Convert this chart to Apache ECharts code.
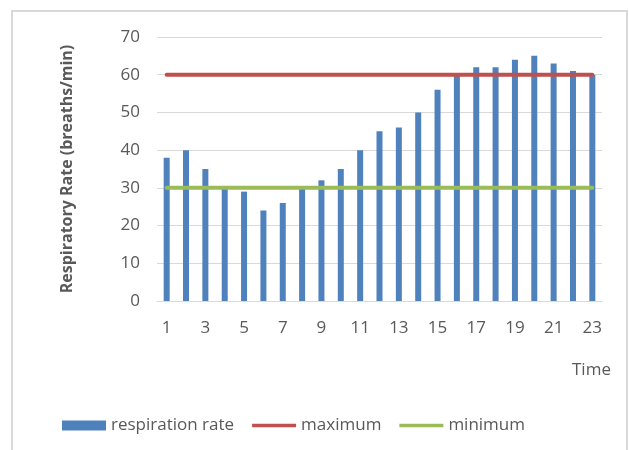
<!DOCTYPE html>
<html>
<head>
<meta charset="utf-8">
<script src="https://cdn.jsdelivr.net/npm/echarts@6/dist/echarts.min.js"></script>
<style>
  html, body { margin: 0; padding: 0; background: #fff; }
  #chart { width: 629px; height: 450px; }
</style>
</head>
<body>
<div id="chart"></div>
<script>
// Hourly respiration readings with fixed upper and lower limits
const timePoints = ['1','2','3','4','5','6','7','8','9','10','11','12','13','14','15','16','17','18','19','20','21','22','23'];
const respirationRate = [38, 40, 35, 30, 29, 24, 26, 30, 32, 35, 40, 45, 46, 50, 56, 60, 62, 62, 64, 65, 63, 61, 60];
const maximumRate = [60,60,60,60,60,60,60,60,60,60,60,60,60,60,60,60,60,60,60,60,60,60,60];
const minimumRate = [30,30,30,30,30,30,30,30,30,30,30,30,30,30,30,30,30,30,30,30,30,30,30];
const yTicks = { min: 0, max: 70, interval: 10 };

const FONT = '"Open Sans", sans-serif';
const TEXT = '#595959';
const GRID = '#d9d9d9';
// flat bar used as the legend key for the limit lines
const LINE_ICON = 'path://M0,0h48v4H0z';

const chart = echarts.init(document.getElementById('chart'), null, { renderer: 'canvas' });
chart.setOption({
  backgroundColor: '#ffffff',
  animation: false,
  textStyle: { fontFamily: FONT },
  grid: { left: 157, right: 27, top: 37, bottom: 149, containLabel: false },
  xAxis: {
    type: 'category',
    data: timePoints,
    boundaryGap: true,
    axisLine: { show: true, lineStyle: { color: GRID, width: 1 } },
    axisTick: { show: false },
    axisLabel: { interval: 1, color: TEXT, fontSize: 17, fontFamily: FONT, margin: 19 }
  },
  yAxis: {
    type: 'value',
    min: yTicks.min, max: yTicks.max, interval: yTicks.interval,
    axisLine: { show: false },
    axisTick: { show: false },
    splitLine: { lineStyle: { color: GRID, width: 1 } },
    axisLabel: { color: TEXT, fontSize: 17, fontFamily: FONT, margin: 17 },
    name: 'Respiratory Rate (breaths/min)',
    nameLocation: 'middle',
    nameRotate: 90,
    nameGap: 82,
    nameTextStyle: { color: TEXT, fontSize: 16, fontWeight: 'bold', fontFamily: FONT }
  },
  legend: {
    left: 57,
    top: 412,
    itemWidth: 44,
    itemHeight: 10,
    itemGap: 18,
    symbolKeepAspect: true,
    textStyle: { color: TEXT, fontSize: 17, fontFamily: FONT },
    data: [
      { name: 'respiration rate', icon: 'rect' },
      { name: 'maximum', icon: LINE_ICON },
      { name: 'minimum', icon: LINE_ICON }
    ]
  },
  graphic: [
    {
      type: 'text',
      left: 572,
      top: 362,
      style: { text: 'Time', fill: TEXT, font: '17px ' + FONT }
    },
    {
      type: 'rect',
      shape: { x: 12, y: 11, width: 615, height: 460 },
      style: { fill: 'none', stroke: GRID, lineWidth: 2 },
      silent: true
    }
  ],
  series: [
    {
      name: 'respiration rate',
      type: 'bar',
      data: respirationRate,
      barWidth: 6,
      itemStyle: { color: '#4F81BD' },
      z: 2
    },
    {
      name: 'maximum',
      type: 'line',
      data: maximumRate,
      symbol: 'none',
      lineStyle: { color: '#C0504D', width: 4, cap: 'round' },
      itemStyle: { color: '#C0504D' },
      z: 3
    },
    {
      name: 'minimum',
      type: 'line',
      data: minimumRate,
      symbol: 'none',
      lineStyle: { color: '#9BBB59', width: 4, cap: 'round' },
      itemStyle: { color: '#9BBB59' },
      z: 3
    }
  ]
});
</script>
</body>
</html>
